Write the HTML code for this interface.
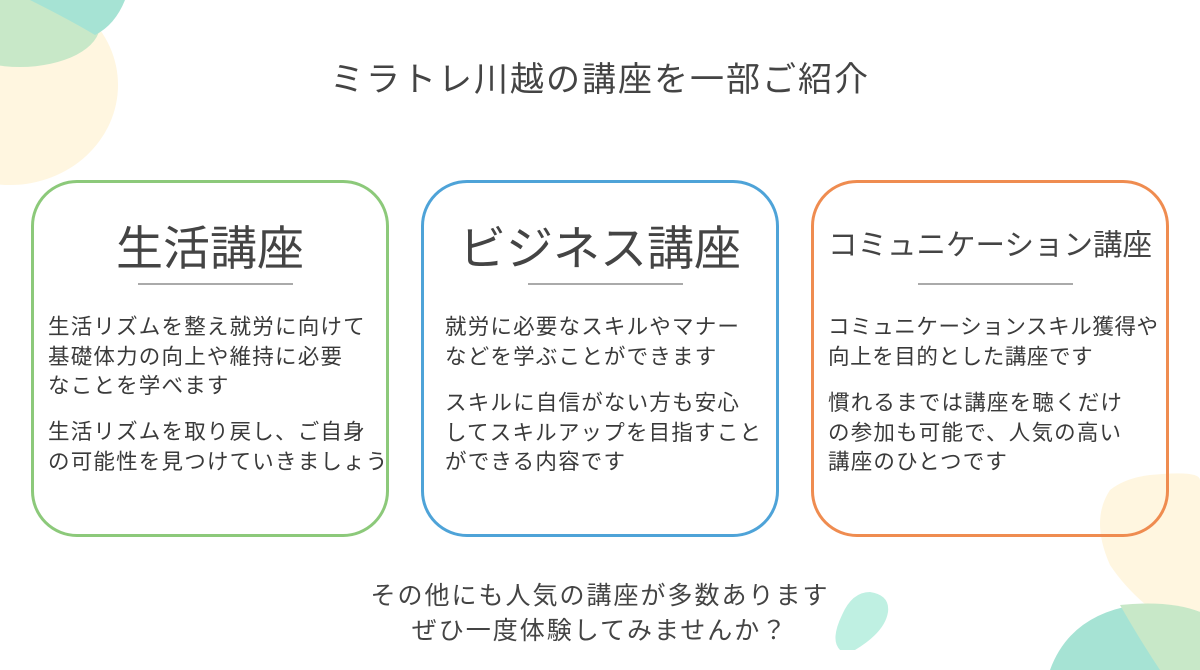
<!DOCTYPE html>
<html><head><meta charset="utf-8"><style>
body{margin:0;width:1200px;height:670px;overflow:hidden;background:#fff;position:relative;font-family:"Liberation Sans","Noto Sans CJK JP",sans-serif;color:#444}
.a{position:absolute;white-space:nowrap}
.box{position:absolute;top:180px;width:352px;height:351px;border:3px solid;border-radius:46px;box-sizing:content-box}
.t{position:absolute;width:358px;text-align:center;white-space:nowrap}
.ln{position:absolute;height:2px;background:#aaa;width:155px;top:283px}
.p{position:absolute;font-size:21.5px;letter-spacing:1.2px;line-height:29.5px;white-space:nowrap;color:#3a3a3a}
</style></head><body>
<svg class="a" style="left:0;top:0" width="1200" height="670">
<ellipse cx="10" cy="85" rx="108" ry="100" fill="#fff6e0"/>
<ellipse cx="20" cy="25" rx="80" ry="42" fill="#c8e8c8"/>
<path d="M30 0 H125 Q115 25 95 35 Q70 20 30 0Z" fill="#a6e3d4"/>
<path d="M1150 475 Q1200 470 1200 480 V640 Q1140 610 1110 565 Q1090 520 1110 490 Q1125 478 1150 475Z" fill="#fff6e0"/>
<path d="M1050 670 Q1070 615 1135 605 Q1180 605 1200 612 V670Z" fill="#a6e3d4"/>
<path d="M1120 605 Q1170 600 1200 612 V670 H1160 Q1140 640 1120 605Z" fill="#c8e8c8"/>
<path d="M840 650 Q830 640 842 615 Q852 592 870 592 Q890 595 888 612 Q885 632 855 650Z" fill="#bff0e2"/>
</svg>
<div class="a" style="left:0;width:1200px;text-align:center;top:52px;font-size:34px;letter-spacing:2px">ミラトレ川越の講座を一部ご紹介</div>
<div class="box" style="left:31px;border-color:#8cc97a"></div>
<div class="box" style="left:421px;border-color:#4ea3d8"></div>
<div class="box" style="left:811px;border-color:#ef8c50"></div>
<div class="t" style="left:31px;top:210px;font-size:47px">生活講座</div>
<div class="t" style="left:421px;top:210px;font-size:47px">ビジネス講座</div>
<div class="t" style="left:811px;top:222px;font-size:29.5px">コミュニケーション講座</div>
<div class="ln" style="left:138px"></div>
<div class="ln" style="left:528px"></div>
<div class="ln" style="left:918px"></div>
<div class="p" style="left:48px;top:313px">生活リズムを整え就労に向けて<br>基礎体力の向上や維持に必要<br>なことを学べます</div>
<div class="p" style="left:48px;top:418px">生活リズムを取り戻し、ご自身<br>の可能性を見つけていきましょう</div>
<div class="p" style="left:445px;top:313px">就労に必要なスキルやマナー<br>などを学ぶことができます</div>
<div class="p" style="left:445px;top:389px">スキルに自信がない方も安心<br>してスキルアップを目指すこと<br>ができる内容です</div>
<div class="p" style="left:828px;top:313px;letter-spacing:0.6px">コミュニケーションスキル獲得や<br>向上を目的とした講座です</div>
<div class="p" style="left:828px;top:389px">慣れるまでは講座を聴くだけ<br>の参加も可能で、人気の高い<br>講座のひとつです</div>
<div class="a" style="left:0;width:1200px;text-align:center;top:579px;font-size:25px;line-height:35px;letter-spacing:2px">その他にも人気の講座が多数あります<br>ぜひ一度体験してみませんか？</div>
</body></html>
